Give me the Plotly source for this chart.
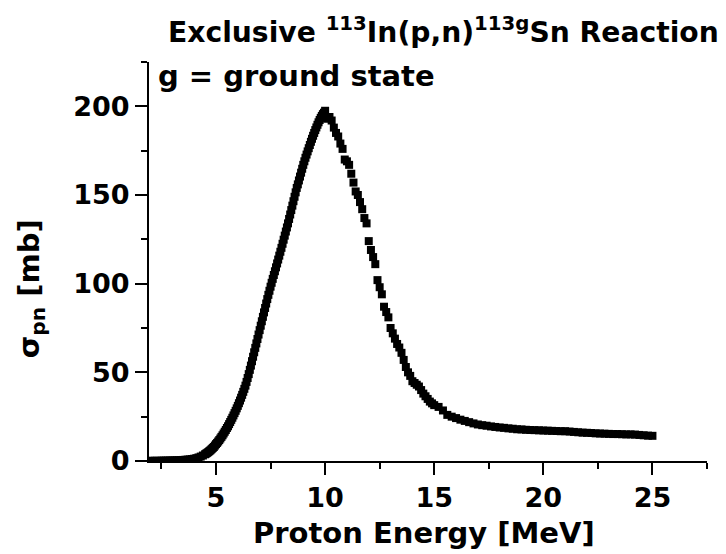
import plotly.graph_objects as go

# Proton energy [MeV] and exclusive cross section sigma_pn [mb]
energy = [
    2.0, 2.1, 2.2, 2.3, 2.4, 2.5, 2.6, 2.7, 2.8, 2.9,
    3.0, 3.1, 3.2, 3.3, 3.4, 3.5, 3.6, 3.7, 3.8, 3.9,
    4.0, 4.1, 4.2, 4.3, 4.4,
    4.50, 4.55, 4.60, 4.65, 4.70, 4.75, 4.80, 4.85, 4.90, 4.95,
    5.00, 5.05, 5.10, 5.15, 5.20, 5.25, 5.30, 5.35, 5.40, 5.45,
    5.50, 5.55, 5.60, 5.65, 5.70, 5.75, 5.80, 5.85, 5.90, 5.95,
    6.00, 6.05, 6.10, 6.15, 6.20, 6.25, 6.30, 6.35, 6.40, 6.45,
    6.50, 6.55, 6.60, 6.65, 6.70, 6.75, 6.80, 6.85, 6.90, 6.95,
    7.00, 7.05, 7.10, 7.15, 7.20, 7.25, 7.30, 7.35, 7.40, 7.45,
    7.50, 7.55, 7.60, 7.65, 7.70, 7.75, 7.80, 7.85, 7.90, 7.95,
    8.00, 8.05, 8.10, 8.15, 8.20, 8.25, 8.30, 8.35, 8.40, 8.45,
    8.50, 8.55, 8.60, 8.65, 8.70, 8.75, 8.80, 8.85, 8.90, 8.95,
    9.00, 9.05, 9.10, 9.15, 9.20, 9.25, 9.30, 9.35, 9.40, 9.45,
    9.50, 9.55, 9.60, 9.65, 9.70, 9.75, 9.80, 9.85, 9.90, 9.95,
    10.0, 10.1, 10.2, 10.3, 10.4, 10.5, 10.6, 10.7, 10.8, 10.9,
    11.0, 11.1, 11.2, 11.3, 11.4, 11.5, 11.6, 11.7, 11.8, 11.9,
    12.0, 12.1, 12.2, 12.3, 12.4, 12.5, 12.6, 12.7, 12.8, 12.9,
    13.0, 13.1, 13.2, 13.3, 13.4, 13.5, 13.6, 13.7, 13.8, 13.9,
    14.0, 14.1, 14.2, 14.3, 14.4, 14.5, 14.6, 14.7, 14.8, 14.9,
    15.0, 15.2, 15.4, 15.6, 15.8, 16.0, 16.2, 16.4, 16.6, 16.8,
    17.0, 17.2, 17.4, 17.6, 17.8, 18.0, 18.2, 18.4, 18.6, 18.8,
    19.0, 19.2, 19.4, 19.6, 19.8, 20.0, 20.2, 20.4, 20.6, 20.8,
    21.0, 21.2, 21.4, 21.6, 21.8, 22.0, 22.2, 22.4, 22.6, 22.8,
    23.0, 23.2, 23.4, 23.6, 23.8, 24.0, 24.2, 24.4, 24.6, 24.8,
    25.0,
]
sigma = [
    0.1, 0.1, 0.1, 0.1, 0.1, 0.2, 0.2, 0.2, 0.2, 0.3,
    0.3, 0.3, 0.4, 0.4, 0.5, 0.6, 0.7, 0.8, 0.9, 1.1,
    1.3, 1.6, 2.0, 2.5, 3.1,
    3.8, 4.2, 4.6, 5.1, 5.6, 6.1, 6.7, 7.3, 7.9, 8.7,
    9.5, 10.2, 11.0, 11.8, 12.7, 13.6, 14.5, 15.5, 16.5, 17.5,
    18.6, 19.6, 20.8, 22.0, 23.2, 24.4, 25.7, 27.0, 28.3, 29.7,
    31.1, 32.6, 34.1, 35.7, 37.3, 39.0, 40.7, 42.5, 44.6, 46.8,
    49.0, 51.4, 53.8, 56.3, 58.8, 61.3, 63.8, 66.3, 68.8, 71.3,
    73.8, 76.3, 78.8, 81.3, 83.8, 86.3, 88.8, 91.3, 93.7, 96.0,
    98.3, 100.5, 102.7, 104.9, 107.0, 109.2, 111.4, 113.6, 115.8, 118.0,
    120.2, 122.5, 124.8, 127.1, 129.4, 131.7, 134.0, 136.5, 139.0, 141.5,
    144.0, 146.5, 149.0, 151.5, 154.0, 156.0, 158.2, 160.4, 162.6, 164.8,
    167.0, 169.0, 171.0, 172.8, 174.6, 176.4, 178.2, 180.0, 181.7, 183.4,
    185.0, 186.6, 188.1, 189.6, 191.0, 192.3, 193.5, 194.6, 195.6, 196.4,
    197.5, 193.0, 194.0, 192.0, 188.0, 185.0, 183.0, 179.0, 176.0, 170.0,
    169.0, 167.0, 162.0, 157.0, 152.0, 150.0, 146.0, 142.0, 137.0, 134.0,
    124.0, 119.0, 115.0, 111.0, 102.0, 98.0, 94.0, 87.0, 84.0, 81.0,
    75.0, 72.0, 69.0, 66.0, 64.0, 61.0, 57.0, 53.0, 50.0, 48.0,
    45.0, 44.0, 43.0, 42.0, 40.0, 38.0, 36.5, 35.0, 33.5, 32.5,
    31.5, 30.5, 28.5, 26.0, 25.0, 24.2, 23.3, 22.6, 21.9, 21.2,
    20.6, 20.2, 19.9, 19.5, 19.2, 18.9, 18.7, 18.4, 18.2, 17.9,
    17.8, 17.6, 17.5, 17.4, 17.3, 17.2, 17.1, 17.0, 16.9, 16.8,
    16.8, 16.6, 16.4, 16.2, 16.0, 15.9, 15.8, 15.6, 15.5, 15.4,
    15.3, 15.2, 15.2, 15.1, 15.0, 15.0, 14.9, 14.7, 14.5, 14.3,
    14.2,
]

x_ticks = [5, 10, 15, 20, 25]
y_ticks = [0, 50, 100, 150, 200]

FONT = "DejaVu Sans"

fig = go.Figure()
fig.add_trace(go.Scatter(
    x=energy, y=sigma, mode="markers",
    marker=dict(symbol="square", size=8, color="black", line=dict(width=0)),
    showlegend=False,
))

axis_common = dict(
    showline=True, linecolor="black", linewidth=2,
    ticks="outside", ticklen=12, tickwidth=2, tickcolor="black",
    showgrid=False, zeroline=False, mirror=False,
    tickfont=dict(family=FONT, size=27, color="black", weight="bold"),
)

fig.update_xaxes(
    range=[1.93, 27.5], tickvals=x_ticks, ticktext=[str(v) for v in x_ticks],
    minor=dict(ticks="outside", ticklen=6, tickwidth=2, tickcolor="black", dtick=2.5, tick0=0),
    **axis_common,
)
fig.update_yaxes(
    range=[0, 225], tickvals=y_ticks, ticktext=[str(v) for v in y_ticks],
    minor=dict(ticks="outside", ticklen=6, tickwidth=2, tickcolor="black", dtick=25, tick0=0),
    **axis_common,
)

fig.update_layout(
    width=726, height=554,
    margin=dict(l=149, r=19, t=62, b=93, pad=0),
    paper_bgcolor="white", plot_bgcolor="white",
    font=dict(family=FONT, color="black"),
    annotations=[
        dict(text="<b>Exclusive <sup>113</sup>In(p,n)<sup>113g</sup>Sn Reaction</b>",
             xref="paper", yref="paper", x=0.0305, y=1.08, xanchor="left", yanchor="middle",
             showarrow=False, font=dict(family=FONT, size=28.2, color="black")),
        dict(text="<b>g = ground state</b>",
             xref="paper", yref="paper", x=0.013, y=0.964, xanchor="left", yanchor="middle",
             showarrow=False, font=dict(family=FONT, size=29, color="black")),
        dict(text="<b>σ<sub>pn</sub> [mb]</b>", textangle=-90,
             xref="paper", yref="paper", x=-0.212, y=0.432, xanchor="center", yanchor="middle",
             showarrow=False, font=dict(family=FONT, size=29, color="black")),
        dict(text="<b>Proton Energy [MeV]</b>",
             xref="paper", yref="paper", x=0.493, y=-0.18, xanchor="center", yanchor="middle",
             showarrow=False, font=dict(family=FONT, size=29, color="black")),
    ],
)

fig.write_html("out.html")
